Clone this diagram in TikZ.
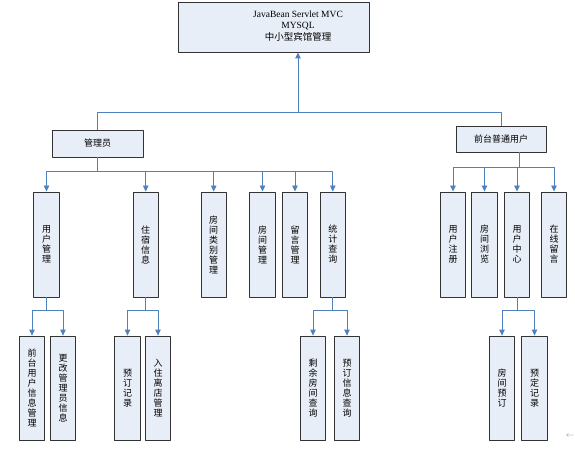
\documentclass[tikz,border=0pt]{standalone}
\usepackage{fontspec}
\setmainfont{Liberation Serif}
\newfontfamily\cjk{Noto Sans CJK SC}
\usetikzlibrary{arrows.meta}
\definecolor{boxfill}{RGB}{232,238,247}
\definecolor{linkblue}{RGB}{79,129,189}
\begin{document}
\begin{tikzpicture}[x=1pt,y=-1pt,>={Triangle[width=5.5pt,length=6pt]},line join=round,
  box/.style={draw=black!80,fill=boxfill,line width=0.9pt,inner sep=0pt},
  vbox/.style={box,minimum width=25.5pt,align=center,font=\cjk\fontsize{9}{10}\selectfont},
  midbox/.style={vbox,minimum height=105pt},
  lowbox/.style={vbox,minimum height=104.5pt},
  link/.style={linkblue,line width=0.9pt}]
  \useasboundingbox (0,0) rectangle (575,449);
  % root
  \node[box,minimum width=191pt,minimum height=50pt] (root) at (273.5,27) {};
  \node[align=center,font=\fontsize{9.5}{11.5}\selectfont] (rootlbl) at (298,26)
    {JavaBean Servlet MVC\\MYSQL\\{\cjk 中小型宾馆管理}};
  % second level
  \node[box,minimum width=91pt,minimum height=27pt,font=\cjk\fontsize{9}{10}\selectfont] (admin) at (97.5,143.5) {管理员};
  \node[box,minimum width=90pt,minimum height=26pt,font=\cjk\fontsize{9}{10}\selectfont] (user) at (501,139) {前台普通用户};
  % admin modules
  \node[midbox] (yhgl) at (46.5,244.5) {用\\户\\管\\理};
  \node[midbox] (zsxx) at (145.7,244.5) {住\\宿\\信\\息};
  \node[midbox] (fjlb) at (213.7,244.5) {房\\间\\类\\别\\管\\理};
  \node[midbox] (fjgl) at (262.5,244.5) {房\\间\\管\\理};
  \node[midbox] (lygl) at (295,244.5) {留\\言\\管\\理};
  \node[midbox] (tjcx) at (332.8,244.5) {统\\计\\查\\询};
  % user modules
  \node[midbox] (yhzc) at (453,244.5) {用\\户\\注\\册};
  \node[midbox] (fjll) at (484.5,244.5) {房\\间\\浏\\览};
  \node[midbox] (yhzx) at (517,244.5) {用\\户\\中\\心};
  \node[midbox] (zxly) at (554,244.5) {在\\线\\留\\言};
  % third level
  \node[lowbox] (qtyh) at (32,388.3) {前\\台\\用\\户\\信\\息\\管\\理};
  \node[lowbox] (ggxx) at (63,388.3) {更\\改\\管\\理\\员\\信\\息};
  \node[lowbox] (ydjl) at (127.5,388.3) {预\\订\\记\\录};
  \node[lowbox] (rzld) at (158,388.3) {入\\住\\离\\店\\管\\理};
  \node[lowbox] (syfj) at (313,388.3) {剩\\余\\房\\间\\查\\询};
  \node[lowbox] (ydxx) at (347,388.3) {预\\订\\信\\息\\查\\询};
  \node[lowbox] (fjyd) at (502,388.3) {房\\间\\预\\订};
  \node[lowbox] (ydjd) at (534.5,388.3) {预\\定\\记\\录};
  % connectors to root
  \coordinate (topbus) at (298,112);
  \draw[link] (admin.north) |- (topbus);
  \draw[link] (user.north) |- (topbus);
  \draw[link,->] (topbus) -- (root.south -| topbus);
  % admin branches
  \draw[link,->] (admin.south) -- ++(0,14) -| (yhgl.north);
  \draw[link,->] (admin.south) -- ++(0,14) -| (zsxx.north);
  \draw[link,->] (admin.south) -- ++(0,14) -| (fjlb.north);
  \draw[link,->] (admin.south) -- ++(0,14) -| (fjgl.north);
  \draw[link,->] (admin.south) -- ++(0,14) -| (lygl.north);
  \draw[link,->] (admin.south) -- ++(0,14) -| (tjcx.north);
  % user branches
  \coordinate (ubus) at (519,167);
  \draw[link,->] (user.south -| ubus) -- (ubus) -| (yhzc.north);
  \draw[link,->] (user.south -| ubus) -- (ubus) -| (fjll.north);
  \draw[link,->] (user.south -| ubus) -- (ubus) -| (yhzx.north);
  \draw[link,->] (user.south -| ubus) -- (ubus) -| (zxly.north);
  % third level branches
  \draw[link,->] (yhgl.south) -- ++(0,13) -| (qtyh.north);
  \draw[link,->] (yhgl.south) -- ++(0,13) -| (ggxx.north);
  \draw[link,->] (zsxx.south) -- ++(0,13) -| (ydjl.north);
  \draw[link,->] (zsxx.south) -- ++(0,13) -| (rzld.north);
  \draw[link,->] (tjcx.south) -- ++(0,13) -| (syfj.north);
  \draw[link,->] (tjcx.south) -- ++(0,13) -| (ydxx.north);
  \draw[link,->] (yhzx.south) -- ++(0,13) -| (fjyd.north);
  \draw[link,->] (yhzx.south) -- ++(0,13) -| (ydjd.north);
  % paragraph mark
  \node[text=black!45,font=\fontsize{8}{8}\selectfont] (pmark) at (570,436) {$\leftarrow$};
\end{tikzpicture}
\end{document}
